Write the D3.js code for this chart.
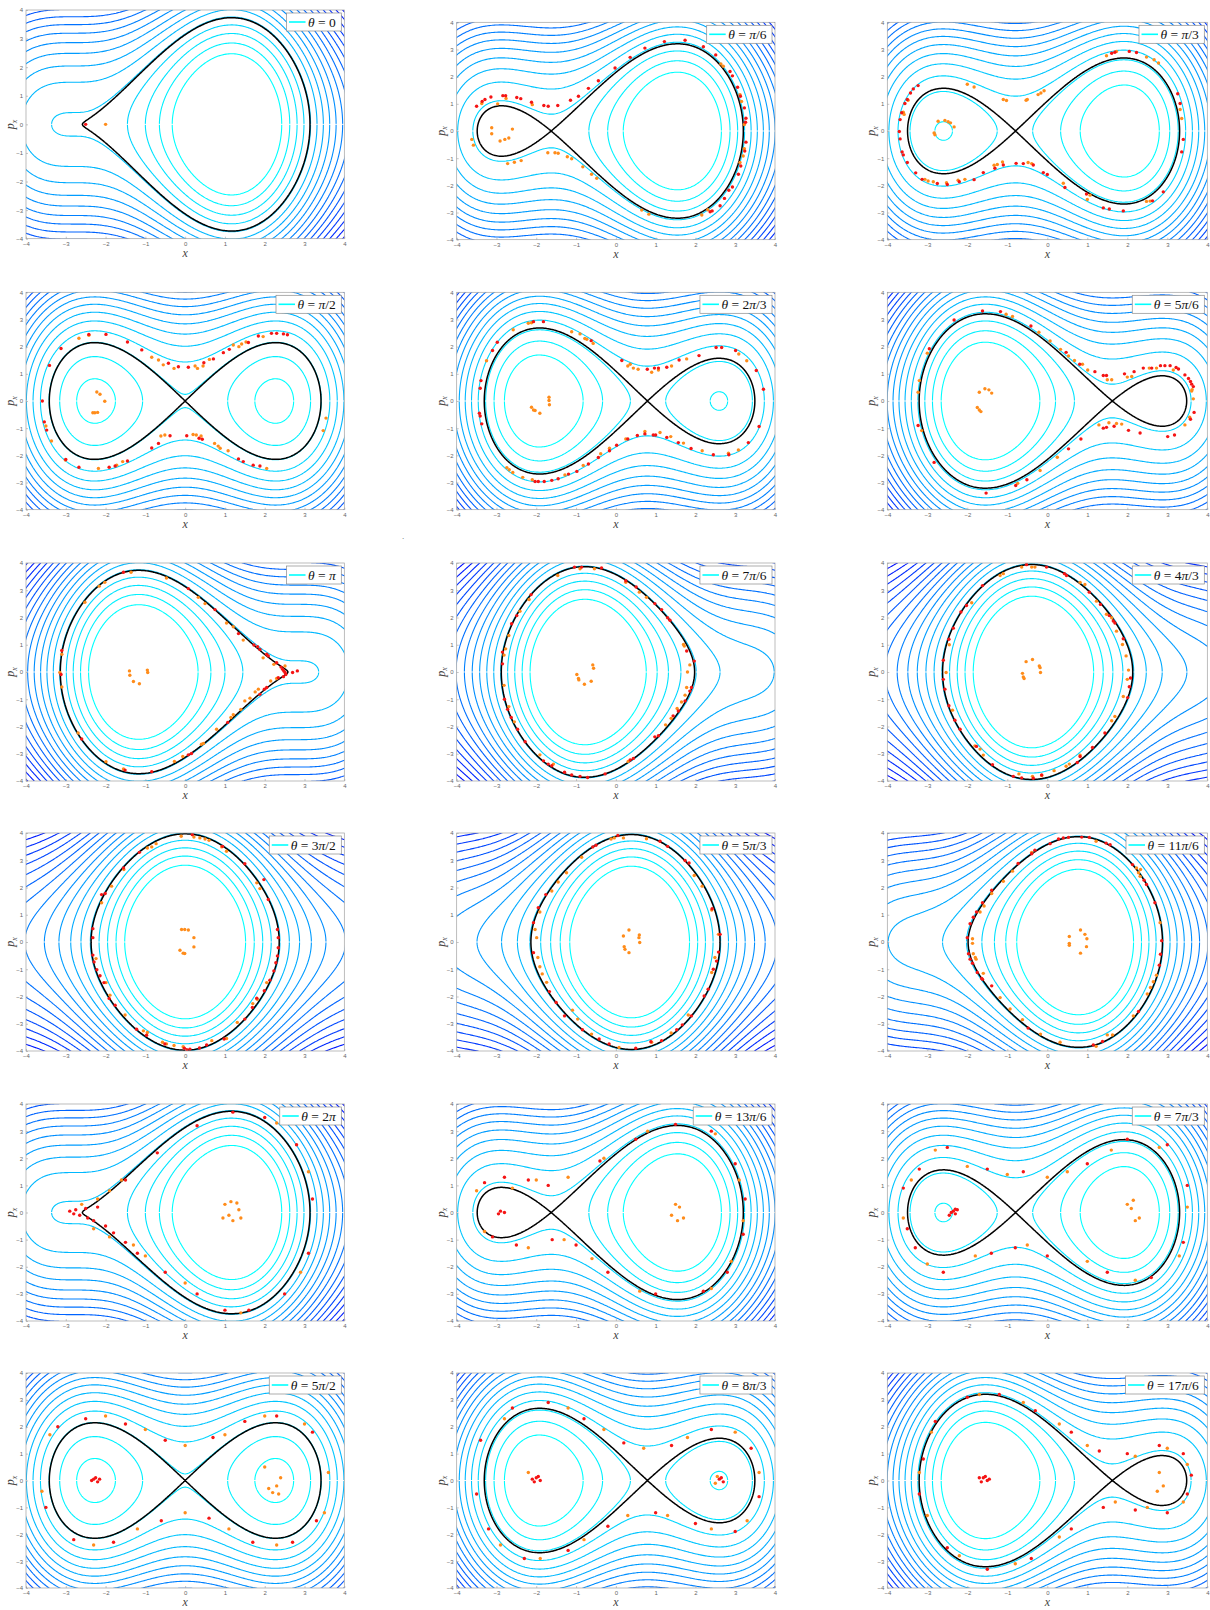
<!DOCTYPE html>
<html>
<head>
<meta charset="utf-8">
<script src="https://cdn.jsdelivr.net/npm/d3@7"></script>
<style>
  body { margin: 0; background: #fff; }
  svg { display: block; }
</style>
</head>
<body>
<div id="wrapper"></div>
<script>
// panel parameter theta, in units of pi, and its legend label
const thetaOverPi = [0, 1/6, 1/3, 1/2, 2/3, 5/6, 1, 7/6, 4/3, 3/2, 5/3, 11/6, 2, 13/6, 7/3, 5/2, 8/3, 17/6];
const thetaLabels = ["0", "π/6", "π/3", "π/2", "2π/3", "5π/6", "π", "7π/6", "4π/3", "3π/2", "5π/3", "11π/6",
                     "2π", "13π/6", "7π/3", "5π/2", "8π/3", "17π/6"];

// energy levels of the coloured contours
const contourLevels = [1, 2, 3, 4, 5, 6, 7, 8, 9, 10, 11, 12, 13, 14, 15, 16, 17, 18, 19];
// black curve level where the panel has no saddle
const blackLevelNoSaddle = 4.91;
const axisTicks = [-4, -3, -2, -1, 0, 1, 2, 3, 4];

// H = p^2/2 + x^2/2 + A sin(theta - x)
const sinAmp = 2.97;

// red particles, [x, p_x], one list per panel
const redPoints = [
  [[-2.5, 0.0]],
  [[-3.50,0.91],[-3.36,1.09],[-3.29,1.16],[-3.14,1.25],[-2.84,1.30],[-2.77,1.30],[-2.49,1.23],[-2.39,1.19],[-2.12,1.06],[-1.81,0.94],[-1.70,0.91],[-1.46,0.94],[-1.14,1.13],[-0.94,1.28],[-0.69,1.57],[-0.44,1.85],[-0.02,2.32],[0.36,2.71],[0.73,3.05],[1.22,3.29],[1.74,3.34],[2.20,3.10],[2.51,2.80],[2.87,2.19],[2.93,2.03],[3.06,1.61],[3.13,1.28],[3.23,0.85],[3.27,0.47],[3.26,0.32],[3.27,-0.41],[3.24,-0.74],[3.14,-1.29],[3.08,-1.59],[2.93,-2.06],[2.84,-2.18],[2.73,-2.48],[2.62,-2.75],[2.42,-2.94],[2.37,-2.97]],
  [[-3.23,1.67],[-3.35,1.55],[-3.42,1.40],[-3.50,1.16],[-3.56,1.01],[-3.64,0.67],[-3.68,0.42],[-3.70,-0.02],[-3.68,-0.29],[-3.63,-0.77],[-3.60,-0.88],[-3.50,-1.16],[-3.29,-1.54],[-3.13,-1.78],[-2.75,-1.93],[-2.50,-1.97],[-2.20,-1.87],[-1.83,-1.79],[-1.60,-1.53],[-1.31,-1.37],[-1.10,-1.25],[-0.78,-1.19],[-0.60,-1.20],[-0.35,-1.25],[-0.10,-1.53],[0.00,-1.60],[0.44,-2.08],[0.98,-2.32],[1.40,-2.83],[1.55,-2.87],[1.90,-2.94],[2.63,-2.57],[2.90,-2.24],[3.40,-0.31],[3.36,-0.77],[3.32,1.01],[3.26,1.37],[2.23,2.89],[2.05,2.93],[1.69,2.90],[1.61,2.86]],
  [[-3.59,0.00],[-3.54,-0.77],[-3.48,-1.07],[-3.41,1.31],[-3.12,1.93],[-2.67,-2.44],[-2.42,2.45],[-1.99,2.45],[-1.91,-2.44],[-1.76,-2.39],[-1.45,2.17],[-1.45,-2.21],[-1.09,1.88],[-0.84,-1.73],[-0.67,-1.56],[-0.42,1.39],[-0.38,-1.28],[-0.17,1.26],[0.04,-1.28],[0.08,1.24],[0.35,-1.37],[0.43,-1.41],[0.47,1.41],[0.71,1.55],[0.96,1.78],[1.11,1.90],[1.34,-2.13],[1.46,-2.23],[1.59,2.15],[1.71,-2.36],[1.84,2.39],[1.88,-2.39],[2.17,2.49],[2.30,2.49],[2.47,2.47],[2.57,2.44],[-3.00,-2.15]],
  [[-2.07,2.92],[-1.82,2.92],[-2.98,2.16],[-3.10,1.86],[-3.39,0.75],[-3.41,0.47],[-3.43,-0.45],[-3.41,-0.55],[-3.37,-0.84],[-2.03,-2.96],[-1.95,-2.96],[-1.80,-2.96],[-1.61,-2.92],[-1.45,-2.86],[-1.19,-2.69],[-0.98,-2.59],[-0.69,-2.32],[-0.44,-2.08],[-0.16,-1.83],[0.02,-1.63],[0.30,-1.40],[0.54,-1.27],[0.73,-1.21],[0.94,-1.25],[1.00,-1.25],[1.28,-1.34],[1.57,-1.53],[1.89,-1.75],[2.45,-1.98],[2.84,-1.98],[3.33,-1.53],[3.60,-0.94],[3.71,0.43],[3.53,1.12],[3.01,1.86],[2.66,1.97],[2.52,1.97],[2.09,1.67],[1.59,1.51],[1.28,1.24],[1.07,1.21],[0.97,1.21],[0.79,1.17],[0.15,1.49],[-0.62,2.22]],
  [[-2.33,2.98],[-1.62,3.31],[-1.17,3.29],[-0.41,2.76],[-2.95,1.92],[-3.23,-0.90],[-2.83,-2.26],[-1.53,-3.39],[-0.79,-3.11],[-0.51,-2.90],[0.53,-1.76],[0.84,-1.40],[1.40,-1.00],[1.48,-0.97],[1.67,-0.93],[2.03,-1.08],[2.32,-1.18],[3.01,-1.31],[3.18,-1.25],[3.67,-0.42],[3.58,-0.67],[3.61,0.62],[3.65,0.53],[3.58,0.72],[3.53,0.83],[3.44,0.96],[3.28,1.18],[3.22,1.23],[3.07,1.30],[2.94,1.30],[2.83,1.30],[2.61,1.21],[2.40,1.21],[2.17,1.08],[1.93,1.00],[1.48,0.94],[1.40,0.94],[1.19,1.08],[0.81,1.35],[0.47,1.79]],
  [[-1.55,3.66],[0.08,3.06],[0.75,2.29],[1.34,1.41],[1.73,0.99],[1.82,0.93],[1.88,0.83],[2.05,0.65],[2.09,0.59],[2.30,0.34],[2.41,0.18],[2.45,0.10],[2.48,0.04],[2.51,-0.02],[2.53,-0.09],[2.47,-0.17],[2.34,-0.21],[2.70,-0.02],[2.82,0.04],[1.88,-0.82],[2.05,-0.57],[1.99,-0.63],[1.07,-1.85],[0.08,-3.04],[0.16,-2.99],[-0.84,-3.66],[-1.51,-3.60],[-2.60,-2.46],[-3.12,-0.09],[-3.10,0.79]],
  [[-1.04,3.85],[-0.86,3.85],[-0.36,3.82],[0.25,3.35],[0.51,3.12],[0.98,2.51],[1.15,2.29],[1.30,1.99],[1.36,1.90],[1.78,0.77],[1.97,0.40],[1.90,-0.57],[1.86,-0.70],[1.74,-1.06],[1.57,-1.43],[1.44,-1.61],[1.07,-2.34],[0.98,-2.38],[0.36,-3.23],[0.44,-3.17],[-0.27,-3.74],[-0.71,-3.87],[-0.90,-3.83],[-1.11,-3.78],[-1.29,-3.68],[-1.61,-3.44],[-1.70,-3.38],[-1.82,-3.26],[-2.28,-2.56],[-2.47,-2.10],[-2.63,-1.67],[-2.72,-1.37],[-2.80,-1.00],[-2.85,0.30],[-2.85,0.73],[-2.62,1.77],[-2.49,2.07],[-2.13,2.84]],
  [[-0.52,3.94],[-0.02,3.85],[0.43,3.61],[0.48,3.54],[1.05,2.93],[1.33,2.48],[1.55,2.07],[1.65,1.87],[1.69,1.80],[1.90,1.22],[2.08,-0.22],[2.05,-0.54],[2.01,-0.94],[1.44,-2.24],[1.13,-2.77],[0.82,-3.10],[0.75,-3.32],[-0.14,-3.78],[-0.35,-3.90],[-0.64,-3.89],[-0.85,-3.83],[-1.37,-3.40],[-1.77,-2.73],[-2.18,-2.10],[-2.31,-1.77],[-2.46,-1.24],[-2.56,-0.63],[-2.60,-0.27],[-2.60,0.43],[-2.46,1.20],[-2.35,1.61],[-2.16,2.20],[-2.02,2.44],[-1.62,3.17]],
  [[0.18,3.94],[-0.02,-3.90],[0.04,-3.95],[0.12,-3.93],[0.36,-3.89],[0.54,-3.78],[0.98,-3.56],[1.50,-2.83],[1.69,-2.40],[1.80,-2.06],[1.99,-1.79],[2.13,-1.40],[2.23,-1.06],[2.28,-0.76],[2.32,-0.51],[2.34,-0.21],[2.34,0.16],[2.32,0.46],[2.09,1.56],[1.98,2.29],[1.50,2.87],[0.94,3.51],[-1.15,3.29],[-1.55,2.72],[-2.01,1.78],[-2.10,1.74],[-2.32,0.49],[-2.32,0.16],[-2.32,-0.48],[-2.29,-0.73],[-2.22,-1.02],[-2.14,-1.24],[-2.04,-1.49],[-1.91,-2.07],[-1.76,-2.32],[-1.22,-3.20],[-0.97,-3.42],[-0.51,-3.74]],
  [[0.05,3.91],[1.11,3.70],[1.30,3.51],[1.74,2.99],[1.84,2.90],[2.42,1.22],[2.62,0.28],[2.58,-0.37],[2.53,-0.70],[2.45,-1.00],[2.32,-1.73],[2.22,-1.98],[1.90,-2.71],[1.67,-3.04],[1.53,-3.22],[1.15,-3.62],[0.88,-3.66],[0.50,-3.90],[-0.17,-3.74],[-0.42,-3.56],[-0.84,-3.22],[-1.29,-2.71],[-1.50,-2.22],[-1.67,-1.82],[-2.07,-0.39],[-2.07,0.71],[-1.95,1.26],[-1.76,1.74],[-0.58,3.49],[-0.50,3.55]],
  [[0.07,3.61],[0.28,3.78],[0.40,3.82],[0.53,3.84],[0.86,3.85],[1.05,3.84],[1.47,3.63],[1.57,3.57],[2.13,2.84],[2.42,2.27],[2.48,2.11],[2.69,1.44],[2.86,0.05],[2.83,-0.45],[2.80,-0.85],[2.28,-2.55],[1.38,-3.65],[1.15,-3.78],[-0.48,-3.16],[-1.39,-1.61],[-1.62,-1.37],[-1.64,-1.34],[-1.75,-1.12],[-1.87,-0.78],[-1.93,-0.63],[-1.97,-0.43],[-2.00,0.16],[-1.93,0.67],[-1.85,0.91],[-1.77,1.10],[-1.62,1.44],[-1.39,1.90],[-0.73,2.88],[-0.39,3.24],[-0.31,3.37]],
  [[-2.9,0.05],[-2.8,-0.05],[-2.75,0.1],[-2.65,-0.1],[-2.5,0.15],[-2.45,-0.2],[-2.3,-0.3],[-2.2,0.2],[-2.0,-0.5],[-1.8,-0.75],[-1.5,-1.1],[-1.2,-1.5],[-0.5,-2.2],[0.3,-3.0],[1.0,-3.6],[1.6,-3.6],[2.5,-3.0],[3.1,-1.5],[3.2,0.5],[2.8,2.5],[2.0,3.5],[1.2,3.7],[0.3,3.2],[-0.7,2.2],[-1.5,1.2]],
  [[-2.9,0.05],[-2.8,0.0],[-2.95,-0.05],[-3.3,1.1],[-2.8,1.3],[-2.2,1.2],[-1.7,1.0],[-0.4,1.9],[0.5,2.7],[1.5,3.25],[2.4,3.0],[3.0,1.8],[3.25,0.5],[3.2,-0.8],[2.8,-2.2],[2.2,-2.9],[1.0,-3.0],[-0.2,-2.2],[-1.0,-1.2],[-1.6,-1.0],[-2.5,-1.2],[-3.1,-0.9]],
  [[-2.35,0.05],[-2.3,-0.05],[-2.4,0.0],[-2.25,0.1],[-2.45,-0.1],[-2.3,0.12],[-3.6,0.9],[-3.5,-0.6],[-3.3,-1.3],[-2.6,-2.2],[-1.4,-1.5],[-0.8,-1.3],[0.0,-1.6],[1.5,-2.2],[2.6,-2.4],[3.4,-1.1],[3.5,1.0],[3.0,2.5],[2.0,2.7],[1.0,1.8],[-0.6,1.5],[-1.5,1.6],[-2.5,2.4],[-3.2,1.6]],
  [[-2.3,0.05],[-2.2,-0.05],[-2.25,0.1],[-2.35,0.0],[-2.15,0.05],[-3.2,2.0],[-2.5,2.3],[-1.5,2.1],[-0.5,1.5],[0.7,1.6],[1.5,2.2],[2.3,2.4],[3.2,1.8],[-3.5,-1.0],[-2.8,-2.2],[-1.8,-2.3],[-0.6,-1.5],[0.6,-1.4],[1.7,-2.3],[2.7,-2.3],[3.3,-1.5]],
  [[-2.0,0.1],[-1.9,0.0],[-2.05,-0.05],[-1.95,0.15],[-2.1,0.05],[2.6,0.05],[2.7,-0.05],[2.65,0.1],[-3.4,1.5],[-2.6,2.7],[-1.7,2.9],[-0.8,2.3],[0.2,1.4],[1.4,1.3],[2.4,1.9],[3.4,1.2],[3.6,-0.6],[3.0,-1.9],[2.0,-1.6],[1.0,-1.2],[-0.2,-1.7],[-1.2,-2.6],[-2.3,-2.9],[-3.2,-1.8],[-3.5,-0.5]],
  [[-1.6,0.1],[-1.5,0.0],[-1.65,-0.05],[-1.55,0.15],[-1.45,0.05],[-1.7,0.1],[-3.2,-0.5],[-3.1,0.8],[-2.8,2.2],[-2.0,3.1],[-1.2,3.2],[-0.3,2.6],[0.6,1.8],[1.3,1.1],[2.0,1.0],[2.8,1.3],[3.4,1.0],[3.6,0.2],[3.5,-0.5],[3.0,-1.2],[2.2,-1.1],[1.4,-1.0],[0.6,-1.8],[-0.4,-2.9],[-1.5,-3.3],[-2.5,-2.5]]
];

// orange particles, [x, p_x], one list per panel
const orangePoints = [
  [[-2.0, 0.0]],
  [[-3.62,-0.31],[-3.58,-0.52],[-3.12,0.12],[-3.12,-0.10],[-2.91,-0.37],[-2.79,-0.31],[-2.69,-0.26],[-2.60,0.07],[-2.72,-1.20],[-2.55,-1.15],[-2.38,-1.09],[-1.71,-0.80],[-1.53,-0.80],[-1.45,-0.82],[-1.22,-0.95],[-1.11,-1.02],[-0.83,-1.32],[-0.61,-1.59],[-0.48,-1.74],[0.65,-2.91],[0.83,-3.06],[2.16,-3.09],[2.31,-2.90],[2.64,2.47],[2.70,2.38],[3.12,1.34],[3.16,1.09],[3.23,0.24],[3.23,-0.65],[3.20,-0.92],[-3.37,1.01],[-2.97,1.00],[-2.76,1.20],[-2.10,0.97],[3.12,-1.16]],
  [[-3.60,0.69],[-3.58,0.61],[-3.48,1.13],[-2.73,0.36],[-2.56,0.39],[-2.48,0.34],[-2.42,0.30],[-2.33,0.15],[-2.83,-0.07],[-2.81,-0.14],[-2.00,1.72],[-1.83,1.62],[-1.10,1.16],[-1.02,1.12],[-0.53,1.13],[-0.50,1.16],[-0.23,1.34],[-0.16,1.40],[-0.08,1.48],[-3.06,-1.78],[-2.98,-1.84],[-2.85,-1.87],[-2.52,-1.90],[-2.23,-1.81],[-2.06,-1.78],[-1.33,-1.26],[-1.25,-1.23],[-1.12,-1.14],[-0.48,-1.16],[-0.39,-1.20],[0.40,-1.92],[1.07,-2.36],[1.00,-2.52],[2.48,-2.59],[2.57,-2.58],[3.32,0.79],[3.36,0.46],[2.67,2.62],[2.48,2.72],[1.73,2.93],[1.48,2.77],[2.78,2.50]],
  [[-2.22,0.33],[-2.14,0.25],[-2.02,-0.01],[-2.32,-0.43],[-2.27,-0.43],[-2.20,-0.42],[-3.50,-0.92],[-3.36,-1.47],[-2.67,2.31],[-2.42,2.42],[-2.18,-2.48],[-1.72,-2.36],[-1.57,-2.23],[-0.84,1.61],[-0.67,1.51],[-0.55,1.33],[-0.28,1.20],[0.25,1.29],[0.31,1.20],[0.45,1.29],[0.61,1.53],[-0.61,-1.29],[-0.51,-1.25],[0.20,-1.23],[0.28,-1.25],[0.40,-1.29],[0.74,-1.56],[0.83,-1.66],[0.88,-1.74],[1.08,-1.83],[1.21,2.06],[1.35,2.00],[1.42,2.10],[1.53,2.17],[1.96,2.37],[2.05,-2.48],[3.47,-1.09],[3.54,-0.63],[-3.01,-2.17]],
  [[-3.25,1.48],[-2.58,2.62],[-2.20,2.86],[-2.12,2.88],[-1.11,2.55],[-0.90,2.47],[-0.78,2.30],[-0.73,2.27],[-0.57,2.12],[0.30,1.29],[0.36,1.35],[0.44,1.21],[0.56,1.17],[0.90,1.06],[1.07,1.14],[1.40,1.29],[1.78,1.55],[3.09,1.73],[3.29,1.48],[-2.12,-0.23],[-2.07,-0.33],[-2.03,-0.35],[-1.91,-0.45],[-1.68,0.14],[-1.68,0.02],[-1.67,-0.14],[-2.74,-2.45],[-2.68,-2.53],[-2.59,-2.63],[-2.34,-2.81],[-2.10,-2.90],[-1.28,-2.72],[-0.82,-2.37],[-0.38,-1.94],[-0.16,-1.74],[0.25,-1.40],[0.73,-1.12],[1.11,-1.16],[1.38,-1.31],[1.70,-1.55],[2.17,-1.83],[2.83,-1.92],[3.08,-1.80]],
  [[-1.70,0.32],[-1.56,0.45],[-1.46,0.41],[-1.39,0.29],[-1.75,-0.24],[-1.70,-0.33],[-1.66,-0.39],[-3.23,0.32],[-3.20,0.75],[-3.00,1.76],[-3.14,-1.09],[-1.03,3.19],[-0.87,3.11],[-0.21,2.53],[0.07,2.21],[0.33,1.90],[0.53,1.66],[0.68,1.49],[0.88,1.35],[1.01,1.14],[1.50,0.78],[1.61,0.78],[2.00,0.88],[2.11,0.90],[2.55,1.21],[2.73,1.21],[3.15,1.14],[3.62,0.42],[3.61,0.37],[3.65,0.08],[3.56,-0.60],[3.44,-0.88],[1.29,-0.88],[1.54,-0.80],[1.73,-0.83],[1.86,-0.85],[0.25,-2.07],[-0.18,-2.56],[-0.74,-3.03]],
  [[-1.36,3.66],[-2.16,3.15],[-2.02,3.29],[-2.52,2.56],[-0.47,3.45],[0.33,2.74],[0.50,2.51],[1.04,1.80],[1.21,1.66],[1.46,1.17],[1.96,0.52],[2.23,0.28],[2.51,0.22],[2.30,-0.24],[2.15,-0.33],[1.84,-0.63],[1.76,-0.73],[1.63,-0.96],[1.50,-1.06],[1.40,-1.37],[1.21,-1.57],[1.15,-1.67],[0.79,-2.10],[0.46,-2.62],[0.41,-2.65],[-0.27,-3.28],[-0.06,-3.10],[-1.55,-3.56],[-1.99,-3.29],[-2.69,-2.24],[-3.10,0.65],[-3.15,-0.02],[-3.10,-0.55],[-1.40,0.04],[-1.39,-0.12],[-1.30,-0.35],[-1.15,-0.43],[-0.95,0.07],[-0.94,-0.02]],
  [[-1.46,3.54],[-0.90,3.79],[-0.54,3.79],[0.25,3.29],[0.59,2.93],[0.77,2.74],[1.70,1.01],[1.72,0.95],[1.86,0.26],[1.80,0.00],[1.78,-0.57],[1.74,-0.85],[1.65,-1.10],[1.54,-1.34],[1.39,-1.70],[1.25,-1.94],[0.31,-3.28],[-1.57,-3.38],[-1.91,-3.04],[-2.55,-1.83],[-2.69,-1.27],[-2.81,-0.49],[-2.81,0.62],[-2.77,0.85],[-2.69,1.34],[-2.41,2.23],[-2.18,2.66],[-0.98,-0.09],[-0.94,-0.24],[-0.79,-0.45],[-0.62,-0.34],[-0.58,0.26],[-0.56,0.14],[-0.93,-0.29]],
  [[-0.64,3.85],[-0.39,3.85],[-0.31,3.85],[-1.18,3.54],[-1.10,3.61],[-1.89,2.54],[0.82,3.29],[0.94,3.21],[1.23,2.60],[1.48,2.12],[1.61,1.99],[1.73,1.50],[1.88,1.01],[1.97,0.59],[2.03,0.07],[2.00,-0.27],[1.90,-0.90],[1.69,-1.63],[1.61,-1.79],[0.82,-3.05],[0.55,-3.38],[0.47,-3.46],[0.17,-3.62],[-0.14,-3.80],[-0.37,-3.83],[-0.71,-3.74],[-1.60,-3.05],[-1.68,-2.83],[-1.81,-2.71],[-2.37,-1.40],[-2.53,-0.02],[-2.45,1.00],[-0.53,0.38],[-0.37,0.46],[-0.20,0.22],[-0.18,0.16],[-0.17,-0.02],[-0.62,-0.05],[-0.60,-0.18],[-0.58,-0.24]],
  [[-0.10,3.88],[0.22,3.85],[0.37,3.82],[0.50,3.78],[0.60,3.73],[0.92,3.49],[1.04,3.33],[-0.95,3.45],[-0.84,3.49],[-0.73,3.61],[-1.54,2.66],[-1.85,2.05],[-2.10,1.44],[-2.24,-0.61],[-1.99,-1.49],[-1.89,-1.95],[-1.51,-2.68],[-1.05,-3.26],[-0.95,-3.32],[-0.57,-3.68],[-0.47,-3.74],[-0.28,-3.80],[-0.05,-3.84],[0.67,-3.62],[1.04,-3.54],[1.31,-2.95],[1.70,-2.26],[1.81,-2.10],[2.05,-1.49],[1.80,2.17],[1.88,1.96],[-0.09,0.46],[-0.01,0.46],[0.08,0.44],[0.22,0.16],[0.22,-0.18],[-0.13,-0.30],[-0.05,-0.41],[-0.01,-0.42]],
  [[-0.12,3.78],[-0.04,3.82],[0.19,3.82],[0.77,3.79],[-0.86,3.11],[-1.24,2.54],[-1.45,2.20],[-1.61,1.87],[-1.91,1.10],[-2.03,0.46],[-1.99,0.16],[-1.96,-0.57],[-1.91,-0.91],[-1.85,-1.17],[-1.74,-1.48],[-1.09,-2.50],[-0.96,-2.83],[-0.61,-3.38],[0.08,-3.87],[0.90,-3.68],[1.39,-3.34],[1.82,-2.68],[2.41,-1.12],[2.49,-0.57],[2.58,0.28],[2.41,1.17],[2.17,2.05],[1.97,2.44],[0.19,0.22],[0.21,-0.17],[0.23,-0.27],[0.33,-0.39],[0.33,0.44],[0.59,0.26],[0.60,-0.02],[0.58,0.16]],
  [[-0.39,3.29],[-0.87,2.60],[-1.10,2.23],[-1.39,1.78],[-1.58,1.32],[-1.68,1.10],[-1.87,0.12],[-1.87,-0.05],[-1.85,-0.43],[-1.80,-0.57],[-1.78,-0.63],[-1.60,-1.15],[-1.18,-2.04],[-0.93,-2.46],[-0.62,-2.85],[-0.17,-3.38],[0.32,-3.68],[1.22,-3.83],[1.50,-3.41],[1.63,-3.41],[2.15,-2.71],[2.50,-1.91],[2.58,-1.67],[2.65,-1.46],[2.73,-1.22],[2.82,0.71],[2.33,2.66],[2.23,2.72],[2.28,2.54],[2.32,2.41],[1.22,3.70],[0.55,0.20],[0.55,-0.05],[0.55,-0.12],[0.83,0.44],[0.94,0.28],[0.99,0.12],[0.98,-0.17],[0.83,-0.41]],
  [[1.0,0.3],[1.15,0.4],[1.3,0.35],[1.35,0.1],[1.1,-0.1],[0.95,-0.2],[1.2,-0.3],[1.4,-0.2],[-2.6,0.3],[-2.2,0.5],[-1.9,0.8],[-1.6,1.2],[-2.3,-0.6],[-1.9,-0.9],[-1.3,-1.2],[-1.0,-1.6],[0.0,-2.6],[1.4,-3.7],[2.9,-2.2],[3.1,1.5],[2.3,3.3]],
  [[1.5,0.3],[1.6,0.2],[1.4,-0.1],[1.55,-0.3],[1.7,-0.2],[-3.5,0.8],[-2.6,0.9],[-2.0,1.2],[-1.2,1.3],[-0.3,2.0],[0.8,3.0],[2.5,2.9],[3.1,1.2],[3.2,-0.3],[2.9,-1.8],[2.4,-2.8],[0.6,-2.9],[-0.6,-1.7],[-1.3,-1.0],[-2.2,-1.3],[-3.3,-0.7]],
  [[2.0,0.3],[2.1,0.15],[2.2,-0.3],[2.3,-0.2],[2.15,0.45],[-3.4,1.2],[-2.8,2.3],[-2.0,1.7],[-1.0,1.4],[0.0,1.3],[0.5,1.5],[1.6,2.3],[2.8,2.4],[3.5,0.2],[3.3,-1.6],[2.2,-2.5],[1.0,-1.8],[-0.5,-1.2],[-1.8,-1.6],[-3.0,-1.9],[-3.6,-0.2]],
  [[2.1,-0.3],[2.3,-0.2],[2.2,-0.45],[2.4,0.1],[2.0,0.5],[2.35,-0.5],[-3.4,1.7],[-2.0,2.4],[-1.0,1.9],[0.0,1.3],[1.0,1.7],[2.0,2.4],[3.0,2.1],[3.6,0.3],[3.5,-1.2],[2.3,-2.4],[1.1,-1.8],[0.0,-1.2],[-1.2,-1.8],[-2.3,-2.4],[-3.6,-0.4]],
  [[2.5,-0.1],[2.55,0.15],[-2.2,0.3],[-2.8,2.3],[-1.2,2.7],[-0.3,1.9],[0.7,1.2],[1.8,1.6],[3.0,1.8],[3.6,0.3],[3.3,-1.5],[2.4,-1.8],[1.3,-1.3],[0.3,-1.3],[-0.8,-2.2],[-1.9,-2.9],[-2.9,-2.4]],
  [[2.8,0.3],[2.75,-0.4],[2.9,-0.2],[-3.2,0.3],[-2.9,1.8],[-1.7,3.2],[-0.6,2.9],[0.3,2.1],[1.0,1.3],[2.2,0.9],[3.0,1.2],[3.5,0.6],[3.4,-0.8],[2.5,-1.0],[1.7,-0.8],[0.3,-2.1],[-0.8,-3.1],[-2.2,-2.8],[-3.0,-1.3]]
];

// ---- layout (pixels) ----
const colX = [[26, 344.3], [456.7, 775], [887.3, 1207.3]];
const rowY = [
  [[10, 238.7], [22.3, 239.7], [22.3, 239.7]],
  [[292.3, 509.7], [292.3, 509.7], [292.3, 509.7]],
  [[563, 781], [563, 781], [563, 781]],
  [[833, 1051], [833, 1051], [833, 1051]],
  [[1104, 1321], [1104, 1321], [1104, 1321]],
  [[1373, 1588], [1373, 1588], [1373, 1588]]
];

const svg = d3.select("#wrapper").append("svg")
  .attr("width", 1210).attr("height", 1610)
  .style("font-family", "'Liberation Sans', Arial, sans-serif");

const levelColor = d3.scaleLinear().domain([1, 19]).range(["#00ffff", "#0000ff"]);

const gridN = 281, gridMin = -4.5, gridMax = 4.5;
const gridStep = (gridMax - gridMin) / (gridN - 1);

function potential(x, th) { return x * x / 2 + sinAmp * Math.sin(th - x); }

function saddleLevel(th) {
  // local maximum of V between the wells, if any
  let prev = null;
  for (let x = -4; x <= 4; x += 0.0005) {
    const d = x - sinAmp * Math.cos(th - x);
    if (prev !== null && prev > 0 && d <= 0) return potential(x, th);
    prev = d;
  }
  return null;
}

function drawPanel(i) {
  const col = i % 3, row = Math.floor(i / 3);
  const [x0, x1] = colX[col];
  const [y0, y1] = rowY[row][col];
  const th = thetaOverPi[i] * Math.PI;

  const xScale = d3.scaleLinear().domain([-4, 4]).range([x0, x1]);
  const yScale = d3.scaleLinear().domain([-4, 4]).range([y1, y0]);

  const g = svg.append("g");
  const clipId = "clip" + i;
  svg.append("clipPath").attr("id", clipId)
    .append("rect").attr("x", x0).attr("y", y0).attr("width", x1 - x0).attr("height", y1 - y0);

  // energy grid
  const values = new Float64Array(gridN * gridN);
  for (let j = 0; j < gridN; j++) {
    const p = gridMax - j * gridStep;
    for (let k = 0; k < gridN; k++) {
      const x = gridMin + k * gridStep;
      values[j * gridN + k] = p * p / 2 + potential(x, th);
    }
  }
  const gx = v => xScale(gridMin + (v - 0.5) * gridStep);
  const gy = v => yScale(gridMax - (v - 0.5) * gridStep);
  const toPath = mp => mp.coordinates.map(poly => poly.map(ring =>
    "M" + ring.map(pt => gx(pt[0]).toFixed(2) + "," + gy(pt[1]).toFixed(2)).join("L") + "Z").join("")).join("");

  const contourGen = d3.contours().size([gridN, gridN]);
  const plot = g.append("g").attr("clip-path", `url(#${clipId})`);

  plot.selectAll("path.lvl")
    .data(contourGen.thresholds(contourLevels)(values))
    .join("path")
    .attr("class", "lvl")
    .attr("d", toPath)
    .attr("fill", "none")
    .attr("stroke", d => levelColor(d.value))
    .attr("stroke-width", 1.1);

  // thin white seam along p = 0
  plot.append("line")
    .attr("x1", x0).attr("x2", x1)
    .attr("y1", yScale(0)).attr("y2", yScale(0))
    .attr("stroke", "#fff").attr("stroke-width", 0.9);

  const sLevel = saddleLevel(th);
  const blackLevel = sLevel === null ? blackLevelNoSaddle : sLevel;
  plot.selectAll("path.sep")
    .data(contourGen.thresholds([blackLevel])(values))
    .join("path")
    .attr("class", "sep")
    .attr("d", toPath)
    .attr("fill", "none")
    .attr("stroke", "#000")
    .attr("stroke-width", 1.5);

  plot.selectAll("circle.orange")
    .data(orangePoints[i])
    .join("circle")
    .attr("class", "orange")
    .attr("cx", d => xScale(d[0])).attr("cy", d => yScale(d[1]))
    .attr("r", 1.7).attr("fill", "#ff8c1a");

  plot.selectAll("circle.red")
    .data(redPoints[i])
    .join("circle")
    .attr("class", "red")
    .attr("cx", d => xScale(d[0])).attr("cy", d => yScale(d[1]))
    .attr("r", 1.7).attr("fill", "#f51414");

  // axes box
  g.append("rect")
    .attr("x", x0).attr("y", y0).attr("width", x1 - x0).attr("height", y1 - y0)
    .attr("fill", "none").attr("stroke", "#a0a0a0").attr("stroke-width", 0.7);

  const xAxis = g.append("g").attr("transform", `translate(0,${y1})`)
    .call(d3.axisBottom(xScale).tickValues(axisTicks).tickSize(-2).tickPadding(3));
  const yAxis = g.append("g").attr("transform", `translate(${x0},0)`)
    .call(d3.axisLeft(yScale).tickValues(axisTicks).tickSize(-2).tickPadding(3));
  [xAxis, yAxis].forEach(a => {
    a.select(".domain").remove();
    a.selectAll(".tick line").attr("stroke", "#a0a0a0").attr("stroke-width", 0.6);
    a.selectAll(".tick text").attr("fill", "#666").style("font-size", "6px")
      .style("font-family", "'Liberation Sans', Arial, sans-serif");
  });

  g.append("text")
    .attr("x", (x0 + x1) / 2).attr("y", y1 + 18)
    .attr("text-anchor", "middle")
    .style("font-family", "'Liberation Serif', serif").style("font-style", "italic")
    .style("font-size", "12px").attr("fill", "#444")
    .text("x");

  const yl = g.append("text")
    .attr("transform", `translate(${x0 - 12},${(y0 + y1) / 2}) rotate(-90)`)
    .attr("text-anchor", "middle")
    .style("font-family", "'Liberation Serif', serif").style("font-style", "italic")
    .style("font-size", "12px").attr("fill", "#444");
  yl.append("tspan").text("p");
  yl.append("tspan").attr("dy", 2.5).style("font-size", "8px").text("x");

  // legend
  const leg = g.append("g");
  const box = leg.append("rect").attr("fill", "#fff").attr("stroke", "#8a8a8a").attr("stroke-width", 0.7);
  const txt = leg.append("text")
    .style("font-family", "'Liberation Serif', serif").style("font-size", "13.5px").attr("fill", "#111");
  txt.append("tspan").style("font-style", "italic").text("θ");
  txt.append("tspan").text(" = ");
  const lab = thetaLabels[i];
  lab.split(/(π)/).filter(s => s.length).forEach(s => {
    txt.append("tspan").style("font-style", s === "π" ? "italic" : "normal").text(s);
  });
  const tw = txt.node().getComputedTextLength();
  const bw = tw + 27, bh = 18;
  const bx = x1 - 3 - bw, by = y0 + 3;
  box.attr("x", bx).attr("y", by).attr("width", bw).attr("height", bh);
  leg.append("line")
    .attr("x1", bx + 2.5).attr("x2", bx + 19)
    .attr("y1", by + bh / 2).attr("y2", by + bh / 2)
    .attr("stroke", "#00ffff").attr("stroke-width", 1.6);
  txt.attr("x", bx + 21.5).attr("y", by + bh / 2 + 4.8);
}

for (let i = 0; i < 18; i++) drawPanel(i);

// stray full stop that sits between the panels in the original figure
svg.append("text")
  .attr("x", 402).attr("y", 539)
  .style("font-size", "8px").attr("fill", "#555")
  .text(".");
</script>
</body>
</html>
